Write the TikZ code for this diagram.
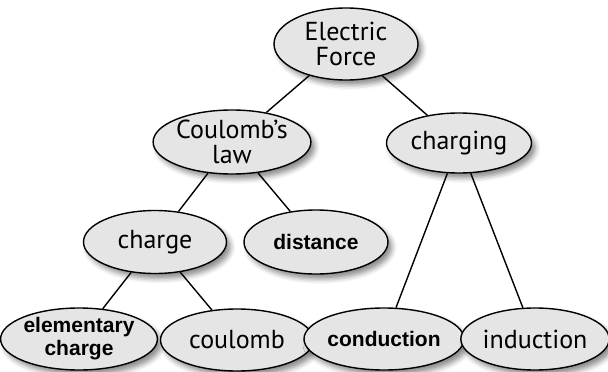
\documentclass[tikz,border=0pt]{standalone}
\usepackage{fontspec}
\newfontfamily\regfont{PT Sans}
\newfontfamily\arialfont{Liberation Sans}
\usetikzlibrary{shapes.geometric,shadows.blur}
\definecolor{nodegray}{RGB}{229,229,229}
\tikzset{
  concept/.style={ellipse, draw=black, line width=1.4pt, fill=nodegray,
    inner sep=0pt, align=center,
    font=\regfont\fontsize{26}{25}\selectfont,
    blur shadow={shadow xshift=4pt, shadow yshift=-5pt, shadow blur radius=5pt, shadow opacity=45}},
  boldconcept/.style={concept, font=\arialfont\bfseries\fontsize{21}{23}\selectfont},
  link/.style={draw=black, line width=1.4pt}
}
\begin{document}
\begin{tikzpicture}[x=1pt,y=-1pt]
\useasboundingbox (0,0) rectangle (608,372);
\node[concept, minimum width=144pt, minimum height=72pt] (ef) at (346,44) {Electric\\Force};
\node[concept, minimum width=142pt, minimum height=64pt] (cl) at (232,142) {Coulomb’s\\law};
\node[concept, minimum width=145pt, minimum height=60pt] (cg) at (459,143) {charging};
\node[concept, minimum width=143pt, minimum height=63pt] (ch) at (155,242) {charge};
\node[boldconcept, minimum width=144pt, minimum height=64pt] (di) at (316,242) {distance};
\node[boldconcept, minimum width=145pt, minimum height=62pt] (el) at (79,339) {elementary\\charge};
\node[concept, minimum width=153pt, minimum height=62pt] (co) at (237,340) {coulomb};
\node[boldconcept, minimum width=142pt, minimum height=62pt] (cd) at (384,339) {conduction};
\node[concept, minimum width=142pt, minimum height=62pt] (in) at (535,339) {induction};
\path[link] (ef) -- (cl);
\path[link] (ef) -- (cg);
\path[link] (cl) -- (ch);
\path[link] (cl) -- (di);
\path[link] (ch) -- (el);
\path[link] (ch) -- (co);
\path[link] (cg) -- (cd);
\path[link] (cg) -- (in);
\end{tikzpicture}
\end{document}
